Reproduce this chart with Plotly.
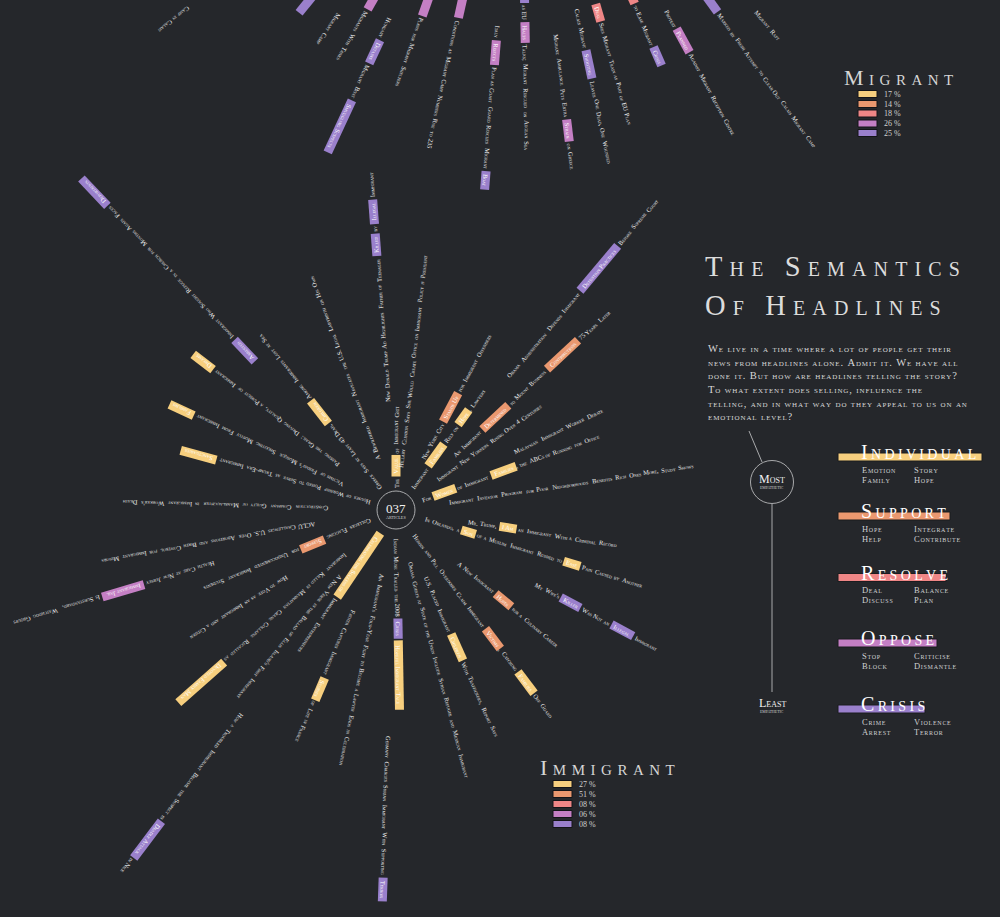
import math
import re
import plotly.graph_objects as go

# ---------------------------------------------------------------- data
CATEGORIES = ["Individual", "Support", "Resolve", "Oppose", "Crisis"]
CAT_COLORS = ["#f7cf7e", "#ea986f", "#ef8686", "#c47fc4", "#9a80cc"]
CAT_WORDS = [["Emotion", "Story", "Family", "Hope"],
             ["Hope", "Integrate", "Help", "Contribute"],
             ["Deal", "Balance", "Discuss", "Plan"],
             ["Stop", "Criticise", "Block", "Dismantle"],
             ["Crime", "Violence", "Arrest", "Terror"]]
IMMIGRANT_SHARE = ["27", "51", "08", "06", "08"]
MIGRANT_SHARE = ["17", "14", "18", "26", "25"]
ARTICLE_COUNT = "037"

TITLE_LINES = ["The Semantics", "Of Headlines"]
INTRO_LINES = ["We live in a time where a lot of people get their",
               "news from headlines alone. Admit it. We have all",
               "done it. But how are headlines telling the story?",
               "To what extent does selling, influence the",
               "telling, and in what way do they appeal to us on an",
               "emotional level?"]

# "Immigrant" headlines: [bracketed] words are the coded keywords
IMM_HEADLINES = [
    "[Arrested] Immigrant Who Sought Refuge in a Church for Months Again Faces [Deportation]",
    "Passing the Grail: Driving Quality, a Pursuit of Immigrant [Dreams]",
    "Victims of Friday's Mosque Shooting Mostly From Immigrant [Families]",
    "Houses of Worship Poised to Serve as Trump-Era Immigrant [Sanctuaries]",
    "Construction Company Guilty of Manslaughter in Immigrant Worker's Death",
    "ACLU Challenges U.S. Over Abortions and Birth Control for Immigrant Minors",
    "Colleges Flagging [Support] for Undocumented Immigrant Students",
    "Health Care at New Jersey [Immigrant Jail] Is Substandard, Watchdog Groups Say",
    "How to Vote as an Immigrant and a Citizen",
    "A New Verse in the Ballad of Ellis Island's First Immigrant",
    "Immigrant Killed in Manhattan Crane Collapse Recalled as [Devoted Family Man]",
    "[Celebrating the Success of] Immigrant Entrepreneurs",
    "Father Captures Immigrant [Stories] of Life in France",
    "An Immigrant's Four-Year Fight to Become a Lawyer Ends in Celebration",
    "Indian Muse Trailed the 2008 [Crisis] [Hopeful Immigrant Tale]",
    "Germany Charges Syrian Immigrant With Supporting [Terror]",
    "How a Troubled Immigrant Became the Suspect in [Deadly Attack] in Nice",
    "Immigrant Investor Program for Poor Neighborhoods Benefits Rich Ones More, Study Shows",
    "Mr. Trump, [I Am] an Immigrant With a Criminal Record",
    "In Orlando, a [Son] of a Muslim Immigrant Rushed to [Ease] Pain Caused by Another",
    "A New Immigrant [Hopes] for a Culinary Career",
    "My Wife's [Killer] Was Not an [Illegal] Immigrant",
    "Heroin and Pill Overdoses Claim Immigrant [Victims], Catching [Families] Off Guard",
    "U.S. Placed Immigrant [Children] With Traffickers, Report Says",
    "Obama Guests at State of the Union Include Syrian Refugee and Mexican Immigrant",
    "For [Women] of Immigrant [Families], the ABCs of Running for Office",
    "Malaysian Immigrant Worker Debate",
    "Immigrant New Yorkers Rising Over 4 Centuries",
    "An Immigrant [Determined] to Mount Business [Contributions] 75 Years Later",
    "Immigrant [Families] Rely on [Hope], Lawyers",
    "New York City [Stands Up] for Immigrant Offenders",
    "Hillary Clinton Says She Would Create Office on Immigrant Policy if President",
    "The [Value] of Immigrant Grit",
    "New Donald Trump Ad Highlights Father of Teenager [Killed] by [Illegal] Immigrant",
    "A Bewildered Immigrant Navigates the U.S. Legal Labyrinth on His Own",
    "Greece Says at Least 43 Dead, [Children] Among Immigrants Lost at Sea",
    "Obama Administration Defends Immigrant [Detention Practices] Before Supreme Court",
]
IMM_KEY_CATS = [[4, 4], [0], [0], [0], [], [], [1], [3], [], [], [0], [0], [0], [],
                [4, 0], [4], [4], [], [0], [0, 0], [1], [4, 4], [1, 0], [0], [],
                [0, 0], [], [], [1, 1], [0, 0], [1], [], [0], [4, 4], [], [0], [4]]
IMM_ANGLE = [-133.5, -142.5, -155, -164.5, 181.5, 170, 157.5, 163.5, 148, 130,
             138.5, 124, 113, 102, 89, 92, 127, -8.5, 9, 17, 40, 28, 53, 66, 75,
             -20, -26, -36, -43, -54, -62, -83.5, -90, -94.3, -110, -128, -50]
IMM_START = [205, 72, 58, 26, 66, 82, 26, 188, 128, 86,
             66, 28, 108, 66, 28, 225, 256, 53, 73, 30, 82, 158, 30, 74, 53,
             28, 130, 50, 80, 26, 58, 42, 22, 108, 53, 26, 173]

# "Migrant" headlines (burst centred above the page)
MIG_HEADLINES = [
    "Tensions Rise as Police Clear Migrant Camp in Calais",
    "Italy Braces for New Wave of Migrant [Arrivals]",
    "Volunteers Rebuild School in Calais Migrant Camp",
    "Hungary [Detains] Migrant Boat [Smuggling Suspects]",
    "Police [Block] Migrants With Tanks",
    "Greek Island [Resists] Plans for Migrant Shelters",
    "UN [Criticises] Conditions as Migrant Camp Numbers Rise to 235",
    "Italy [Rejects] Plan as Coast Guard Rescues Migrant [Boat]",
    "[Crisis] as EU [Halts] Talks; Migrant Rescued on Aegean Sea",
    "Migrant Ambulance Puts Extra [Strain] on Greece",
    "Calais Migrant [Shooting] Leaves One Dead, One Wounded",
    "[Deal] Sees Migrant Train as Part of EU Plan",
    "Turkey Strikes [Deal] to Ease Migrant [Crisis]",
    "Protest [Planned] Against Migrant Reception Centre",
    "[Violence] Marked by Fresh Attempt to Clear Out Calais Migrant Camp",
    "Fishermen [Rescue] Stricken Migrant Raft",
    "Migrant Influx Boosts Growth of German Trade",
]
MIG_KEY_CATS = [[], [4], [], [4, 4], [3], [3], [3], [3, 4], [4, 3], [3], [4],
                [2], [2, 4], [3], [4], [1], []]
MIG_ANGLE = [141, 129, 123.5, 115, 119.5, 109.5, 102.5, 94.5, 89, 83, 78, 74,
             66.5, 61.5, 54, 49, 41]
MIG_END = [465, 351, 366, 455, 369, 369, 418, 451, 410, 433, 434, 400, 355,
           450, 503, 396, 416]

# ---------------------------------------------------------------- style
W, H = 1000, 917
BG = "#25272b"
TXT = "#f2f2f2"
SOFT = "#cfd0d2"
SERIF = "Liberation Serif"
HL_SIZE = 6.4
PAD = 2.5
IMM_CENTER = (396, 510)
IMM_RADIUS = 19
MIG_CENTER = (520, -260)

UPPER_W = dict(A=.722, B=.667, C=.667, D=.722, E=.611, F=.556, G=.722, H=.722,
               I=.333, J=.389, K=.722, L=.611, M=.889, N=.722, O=.722, P=.556,
               Q=.722, R=.667, S=.556, T=.611, U=.722, V=.722, W=.944, X=.722,
               Y=.722, Z=.611)
PUNCT_W = {" ": .25, ",": .25, ".": .25, ":": .278, ";": .278, "-": .333,
           "'": .18, "?": .444, "&": .778, "%": .833}


def glyph_w(ch, size):
    if ch.isalpha():
        base = UPPER_W.get(ch.upper(), .7) * size
        return base if ch.isupper() else base * 0.7
    if ch.isdigit():
        return .5 * size
    return PUNCT_W.get(ch, .3) * size


def text_w(s, size):
    return sum(glyph_w(c, size) for c in s)


def tracked(s, n=1):
    return ("\u200a" * n).join(s)


def norm(a):
    return ((a + 180) % 360) - 180


def lay_out(headline, size):
    toks = []
    for m in re.finditer(r"\[([^\]]+)\]|([^\s\[\]]+)", headline):
        sp = m.start() > 0 and headline[m.start() - 1] == " "
        if m.group(1) is not None:
            toks.append((m.group(1), True, sp))
        else:
            toks.append((m.group(2), False, sp))
    pos = 0.0
    placed = []
    for i, (t, kw, sp) in enumerate(toks):
        if i > 0 and sp:
            pos += .25 * size
        w = text_w(t, size)
        if kw:
            placed.append((t, True, pos, pos + w + 2 * PAD))
            pos += w + 2 * PAD
        else:
            placed.append((t, False, pos, pos + w))
            pos += w
    return placed, pos


def inside_page(x, y, m=2.0):
    return m <= x <= W - m and m <= y <= H - m


bar_x = {k: [] for k in range(len(CATEGORIES))}
bar_y = {k: [] for k in range(len(CATEGORIES))}
annotations = []


def draw_ray(headline, cats, center, ang, r0):
    cx, cy = center
    ca, sa = math.cos(math.radians(ang)), math.sin(math.radians(ang))
    placed, _ = lay_out(headline, HL_SIZE)
    ki = 0
    for t, kw, a, b in placed:
        if kw:
            cat = cats[ki]
            ki += 1
            bar_x[cat] += [cx + (r0 + a) * ca, cx + (r0 + b) * ca, None]
            bar_y[cat] += [cy + (r0 + a) * sa, cy + (r0 + b) * sa, None]
        # only write words that fit completely on the page
        corners = []
        for rr in (r0 + a, r0 + b):
            for off in (-3.5, 3.5):
                corners.append((cx + rr * ca - off * sa, cy + rr * sa + off * ca))
        if not all(inside_page(px, py) for px, py in corners):
            continue
        mid = r0 + (a + b) / 2
        annotations.append(dict(
            x=cx + mid * ca, y=cy + mid * sa, xref="x", yref="y", text=t,
            textangle=norm(ang), showarrow=False, xanchor="center", yanchor="middle",
            font=dict(family=SERIF, size=HL_SIZE, color="#ffffff" if kw else TXT,
                      variant="small-caps")))


for hl, cats, ang, r0 in zip(IMM_HEADLINES, IMM_KEY_CATS, IMM_ANGLE, IMM_START):
    draw_ray(hl, cats, IMM_CENTER, ang, r0)

for hl, cats, ang, r1 in zip(MIG_HEADLINES, MIG_KEY_CATS, MIG_ANGLE, MIG_END):
    _, total = lay_out(hl, HL_SIZE)
    draw_ray(hl, cats, MIG_CENTER, ang, r1 - total)

fig = go.Figure()
for k in range(len(CATEGORIES)):
    fig.add_trace(go.Scatter(x=bar_x[k], y=bar_y[k], mode="lines",
                             line=dict(color=CAT_COLORS[k], width=9),
                             hoverinfo="skip", showlegend=False))

shapes = []


def add_text(x, y, text, size, color=TXT, xanchor="center", yanchor="middle",
             variant="small-caps", align="center"):
    annotations.append(dict(x=x, y=y, xref="x", yref="y", text=text, showarrow=False,
                            xanchor=xanchor, yanchor=yanchor, align=align,
                            font=dict(family=SERIF, size=size, color=color,
                                      variant=variant)))


# centre of the immigrant burst
cx, cy = IMM_CENTER
shapes.append(dict(type="circle", xref="x", yref="y", x0=cx - IMM_RADIUS, x1=cx + IMM_RADIUS,
                   y0=cy - IMM_RADIUS, y1=cy + IMM_RADIUS,
                   line=dict(color="#a9aaac", width=1)))
add_text(cx, cy - 2, ARTICLE_COUNT, 13, "#f2f2f2", variant="normal")
add_text(cx, cy + 7, "ARTICLES", 4.2, "#d8d8d8", variant="normal")

# title + intro
add_text(703, 266, tracked(TITLE_LINES[0], 3), 28.5, "#dcdcdc", xanchor="left")
add_text(703, 305, tracked(TITLE_LINES[1], 3), 28.5, "#dcdcdc", xanchor="left")
add_text(706, 341, "<br>".join(tracked(line, 1) for line in INTRO_LINES), 10.5,
         "#d8d8d8", xanchor="left", yanchor="top", align="left")

# empathy scale
shapes.append(dict(type="line", xref="x", yref="y", x0=749, y0=431, x1=762, y1=462,
                   line=dict(color="#a9aaac", width=1)))
shapes.append(dict(type="circle", xref="x", yref="y", x0=750.5, x1=793.5, y0=460.5, y1=503.5,
                   line=dict(color="#a9aaac", width=1)))
shapes.append(dict(type="line", xref="x", yref="y", x0=772, y0=503.5, x1=772, y1=692,
                   line=dict(color="#a9aaac", width=1)))
add_text(772, 479, "Most", 12, "#f2f2f2")
add_text(772, 487.5, "EMPATHETIC", 3.8, "#d0d0d0", variant="normal")
add_text(772, 703, "Least", 12, "#f2f2f2")
add_text(772, 711.5, "EMPATHETIC", 3.8, "#d0d0d0", variant="normal")

# category key
KEY_BAR_Y = [457, 516, 577.5, 643, 709]
KEY_BAR_END = [982, 950, 946, 937, 925]
for i, name in enumerate(CATEGORIES):
    yb = KEY_BAR_Y[i]
    shapes.append(dict(type="rect", xref="x", yref="y", x0=838, x1=KEY_BAR_END[i],
                       y0=yb - 4, y1=yb + 4, fillcolor=CAT_COLORS[i],
                       line=dict(color="#1b1c1f", width=1), layer="below"))
    add_text(859, yb - 5, tracked(name, 2), 20, "#ffffff", xanchor="left")
    words = CAT_WORDS[i]
    add_text(860, yb + 12.5, tracked(words[0]), 8.5, SOFT, xanchor="left")
    add_text(912, yb + 12.5, tracked(words[1]), 8.5, SOFT, xanchor="left")
    add_text(860, yb + 22.5, tracked(words[2]), 8.5, SOFT, xanchor="left")
    add_text(912, yb + 22.5, tracked(words[3]), 8.5, SOFT, xanchor="left")


def share_key(title, tx, ty, sx0, sx1, rows, shares):
    add_text(tx, ty, tracked(title, 3), 22, "#d6d6d6")
    for i, s in enumerate(shares):
        yr = rows[i]
        shapes.append(dict(type="rect", xref="x", yref="y", x0=sx0, x1=sx1,
                           y0=yr - 3.5, y1=yr + 3.5, fillcolor=CAT_COLORS[i],
                           line=dict(color="#141518", width=1)))
        add_text(sx1 + 5, yr, f"{s} %", 8, "#d0d0d0", xanchor="left", variant="normal")


share_key("Immigrant", 607, 767, 553, 572, [784, 794, 804, 814, 824], IMMIGRANT_SHARE)
share_key("Migrant", 898, 77, 858, 877, [94, 104, 113.5, 123.5, 133], MIGRANT_SHARE)

fig.update_layout(
    width=W, height=H, margin=dict(l=0, r=0, t=0, b=0),
    paper_bgcolor=BG, plot_bgcolor=BG, showlegend=False,
    xaxis=dict(range=[0, W], visible=False, fixedrange=True),
    yaxis=dict(range=[H, 0], visible=False, fixedrange=True),
    shapes=shapes, annotations=annotations,
)

fig.write_html("out.html", config={"displayModeBar": False},
               post_script="document.body.style.margin='0';")
